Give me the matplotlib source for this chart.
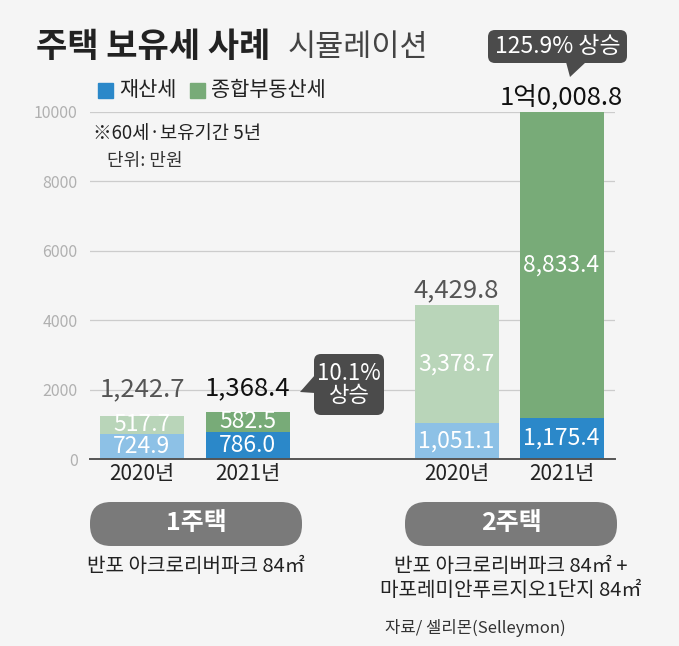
import matplotlib.pyplot as plt
from matplotlib.patches import FancyBboxPatch, Polygon, Rectangle

# data (unit: 만원)
groups = ['1주택', '2주택']
years = ['2020년', '2021년', '2020년', '2021년']
property_tax = [724.9, 786.0, 1051.1, 1175.4]
comp_tax = [517.7, 582.5, 3378.7, 8833.4]
prop_labels = ['724.9', '786.0', '1,051.1', '1,175.4']
comp_labels = ['517.7', '582.5', '3,378.7', '8,833.4']
total_labels = ['1,242.7', '1,368.4', '4,429.8', '1억0,008.8']
increase = ['10.1%\n상승', '125.9% 상승']
yticks = [0, 2000, 4000, 6000, 8000, 10000]
descs = [['반포 아크로리버파크 84㎡'], ['반포 아크로리버파크 84㎡ +', '마포레미안푸르지오1단지 84㎡']]

plt.rcParams['font.family'] = ['Noto Sans CJK KR', 'DejaVu Sans']

bg = '#f5f5f5'
blue = ['#8dc1e6', '#2b88c9', '#8dc1e6', '#2b88c9']
green = ['#b9d5b9', '#78ab78', '#b9d5b9', '#78ab78']
W, H = 679, 646

fig = plt.figure(figsize=(W / 100, H / 100), dpi=100, facecolor=bg)

# main chart axes (pixel box 90..615, 112..459)
ax = fig.add_axes([90 / W, (H - 459) / H, 525 / W, 347 / H])
ax.set_facecolor('none')
xpos = [52, 157.5, 366.5, 471.5]
bw = 84
ax.bar(xpos, property_tax, width=bw, color=blue, zorder=2)
ax.bar(xpos, comp_tax, width=bw, bottom=property_tax, color=green, zorder=2)
ax.set_xlim(0, 525)
ax.set_ylim(0, 10000)
ax.set_yticks(yticks)
ax.set_yticklabels([str(t) for t in yticks], color='#b0b0b0', fontsize=11.5)
ax.tick_params(axis='y', length=0, pad=9)
ax.set_xticks(xpos)
ax.set_xticklabels(years, fontsize=15, color='#222222')
ax.tick_params(axis='x', length=0, pad=3)
for s in ['top', 'right', 'left']:
    ax.spines[s].set_visible(False)
ax.spines['bottom'].set_color('#555555')
ax.spines['bottom'].set_linewidth(1.4)
ax.spines['bottom'].set_zorder(3)
for t in yticks[1:]:
    ax.axhline(t, color='#cccccc', lw=0.9, zorder=1)

for i, x in enumerate(xpos):
    p, c = property_tax[i], comp_tax[i]
    ax.text(x, p / 2, prop_labels[i], ha='center', va='center', color='white',
            fontsize=16.5, zorder=4)
    ax.text(x, p + c / 2, comp_labels[i], ha='center', va='center', color='white',
            fontsize=16.5, zorder=4)

# overlay in pixel coordinates for annotations
ov = fig.add_axes([0, 0, 1, 1], zorder=5)
ov.set_xlim(0, W)
ov.set_ylim(H, 0)
ov.axis('off')

# totals above bars
tot_xy = [(142, 389), (247.5, 388), (456.5, 290), (561.5, 97)]
tot_col = ['#555555', '#111111', '#555555', '#111111']
for (x, y), lab, col in zip(tot_xy, total_labels, tot_col):
    ov.text(x, y, lab, ha='center', va='center', color=col, fontsize=18.5)

# title and legend
ov.text(36, 47, '주택 보유세 사례', fontsize=24.5, fontweight='bold', color='#222222',
        va='center')
ov.text(288, 47, '시뮬레이션', fontsize=22, fontweight='light', color='#444444',
        va='center')
ov.add_patch(Rectangle((98, 83), 15, 15, color='#2b88c9'))
ov.text(119, 90, '재산세', fontsize=15, va='center', color='#222222')
ov.add_patch(Rectangle((190, 83), 15, 15, color='#78ab78'))
ov.text(211, 90, '종합부동산세', fontsize=15, va='center', color='#222222')
ov.text(93, 134, '※60세·보유기간 5년', fontsize=13.5, va='center', color='#222222')
ov.text(107, 161, '단위: 만원', fontsize=13, va='center', color='#333333', style='italic')

# increase callouts
dark = '#4b4b4b'
ov.add_patch(FancyBboxPatch((314, 354), 70, 61, boxstyle='round,pad=0,rounding_size=7',
                            fc=dark, ec='none'))
ov.add_patch(Polygon([(300, 392), (315, 375), (315, 393)], fc=dark, ec='none'))
ov.text(349, 384.5, increase[0], ha='center', va='center', color='white', fontsize=16,
        linespacing=1.0)
ov.add_patch(FancyBboxPatch((488, 30), 139, 33, boxstyle='round,pad=0,rounding_size=7',
                            fc=dark, ec='none'))
ov.add_patch(Polygon([(570, 77), (566, 62), (586, 62)], fc=dark, ec='none'))
ov.text(557.5, 46.5, increase[1], ha='center', va='center', color='white', fontsize=16.5)

# group pills and descriptions
pill_x = [(90, 302), (405, 617)]
for (x0, x1), g, d in zip(pill_x, groups, descs):
    ov.add_patch(FancyBboxPatch((x0, 502), x1 - x0, 44, boxstyle='round,pad=0,rounding_size=21',
                                fc='#7a7a7a', ec='none'))
    ov.text((x0 + x1) / 2, 523, g, ha='center', va='center', color='white',
            fontsize=18, fontweight='bold')
    for k, line in enumerate(d):
        ov.text((x0 + x1) / 2, 566 + 24 * k, line, ha='center', va='center',
                color='#222222', fontsize=14.5)

ov.text(385, 628, '자료/ 셀리몬(Selleymon)', fontsize=12, va='center', color='#333333',
        style='italic')

fig.savefig('out.png', dpi=100, facecolor=bg)
